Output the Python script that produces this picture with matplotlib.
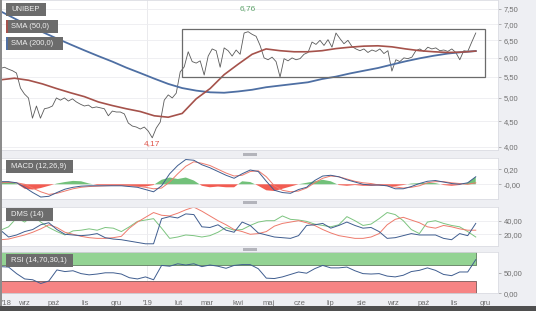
import numpy as np
import pandas as pd
import matplotlib
matplotlib.use('Agg')
import matplotlib.pyplot as plt
import matplotlib.dates as mdates
from matplotlib.patches import Rectangle

plt.rcParams['font.family'] = ['Liberation Sans', 'DejaVu Sans']

# ------------------------------------------------------------
# dane
# ------------------------------------------------------------
start, end = '2018-08-09', '2019-11-22'

close = [5.72, 5.75, 5.70, 5.66, 5.60, 5.23, 5.09, 5.00, 4.56, 4.82,
         4.56, 4.76, 4.78, 4.82, 5.00, 4.95, 5.00, 4.93, 4.98, 4.91,
         4.86, 4.82, 4.84, 4.78, 4.80, 4.78, 4.76, 4.61, 4.71, 4.69,
         4.69, 4.65, 4.46, 4.40, 4.38, 4.34, 4.38, 4.30, 4.17, 4.36,
         4.48, 4.95, 5.07, 5.00, 5.11, 5.63, 5.76, 6.17, 5.90, 5.86,
         5.92, 5.55, 6.05, 6.25, 6.20, 5.75, 6.28, 6.20, 6.05, 6.22,
         6.10, 6.72, 6.76, 6.68, 6.62, 6.35, 6.00, 5.95, 6.02, 5.90,
         5.50, 5.98, 5.92, 6.00, 5.95, 5.98, 6.10, 6.15, 6.45, 6.38,
         6.50, 6.35, 6.52, 6.30, 6.72, 6.55, 6.40, 6.50, 6.32, 6.25,
         6.20, 6.25, 6.15, 6.22, 6.18, 6.25, 6.12, 6.20, 5.65, 5.95,
         5.90, 6.00, 5.98, 6.02, 6.20, 6.25, 6.18, 6.30, 6.25, 6.28,
         6.20, 6.22, 6.18, 6.25, 6.15, 5.95, 6.20, 6.18, 6.45, 6.72]

sma50 = [5.43, 5.47, 5.42, 5.33, 5.22, 5.12, 5.03, 4.91, 4.83, 4.76,
         4.70, 4.61, 4.58, 4.66, 4.98, 5.22, 5.56, 5.83, 6.10, 6.25,
         6.20, 6.17, 6.17, 6.20, 6.26, 6.30, 6.33, 6.34, 6.31, 6.25,
         6.20, 6.17, 6.15, 6.16, 6.19]

sma200 = [7.42, 7.18, 6.95, 6.75, 6.56, 6.38, 6.21, 6.05, 5.90, 5.74,
          5.60, 5.46, 5.33, 5.23, 5.17, 5.13, 5.12, 5.15, 5.19, 5.25,
          5.29, 5.33, 5.37, 5.45, 5.51, 5.59, 5.66, 5.73, 5.82, 5.91,
          5.99, 6.06, 6.12, 6.16, 6.19]

macd = [0.035, 0.035, 0.02, -0.04, -0.11, -0.17, -0.16, -0.11, -0.065, -0.04,
        -0.025, -0.02, -0.02, -0.02, -0.02, -0.02, -0.03, -0.04, -0.07, -0.10,
        -0.02, 0.14, 0.25, 0.33, 0.32, 0.26, 0.22, 0.17, 0.12, 0.08,
        0.14, 0.19, 0.17, 0.04, -0.08, -0.11, -0.12, -0.07, -0.04, 0.05,
        0.11, 0.12, 0.10, 0.06, 0.03, 0.00, -0.01, -0.01, -0.02, -0.06,
        -0.06, -0.03, 0.01, 0.04, 0.05, 0.03, 0.01, 0.00, 0.02, 0.10]

signal = [0.02, 0.025, 0.02, 0.00, -0.05, -0.10, -0.135, -0.12, -0.09, -0.06,
          -0.04, -0.03, -0.025, -0.02, -0.015, -0.015, -0.02, -0.025, -0.04, -0.06,
          -0.05, 0.03, 0.14, 0.24, 0.30, 0.28, 0.25, 0.20, 0.15, 0.11,
          0.12, 0.17, 0.18, 0.10, -0.02, -0.08, -0.10, -0.09, -0.05, 0.02,
          0.08, 0.11, 0.10, 0.07, 0.04, 0.02, 0.01, -0.01, -0.02, -0.035,
          -0.05, -0.04, -0.02, 0.02, 0.035, 0.035, 0.02, 0.01, 0.00, 0.02]

hist = [0.03, 0.035, 0.01, -0.06, -0.07, -0.05, -0.02, 0.01, 0.03, 0.045,
        0.04, 0.01, -0.01, -0.01, -0.01, -0.015, -0.02, -0.03, -0.03, -0.01,
        0.06, 0.09, 0.07, 0.09, 0.05, -0.02, -0.04, -0.03, -0.04, -0.04,
        0.04, 0.03, -0.02, -0.08, -0.09, -0.06, -0.03, 0.00, 0.02, 0.04,
        0.06, 0.04, -0.01, -0.02, -0.01, -0.02, -0.02, -0.015, -0.02, -0.025,
        -0.01, 0.01, 0.015, 0.02, 0.015, -0.01, -0.02, -0.01, 0.02, 0.10]

dms_green = [26, 31, 44, 38, 47, 38, 30, 24, 19, 25,
             26, 28, 26, 30, 29, 24, 31, 39, 41, 43,
             29, 14, 16, 19, 18, 16, 18, 23, 30, 26,
             27, 33, 38, 40, 40, 47, 42, 41, 39, 35,
             33, 31, 34, 46, 40, 33, 35, 43, 52, 49,
             40, 27, 21, 38, 40, 36, 33, 31, 24, 16]

dms_red = [12, 13, 16, 19, 23, 28, 34, 30, 23, 20,
           17, 15, 14, 14, 15, 17, 29, 38, 45, 52,
           48, 47, 51, 56, 60, 54, 47, 40, 34, 27,
           24, 20, 21, 24, 32, 36, 38, 40, 37, 33,
           27, 22, 18, 16, 14, 14, 16, 21, 34, 42,
           45, 41, 37, 31, 29, 33, 31, 28, 26, 26]

dms_blue = [26, 16, 19, 24, 27, 34, 37, 27, 20, 19,
            18, 19, 21, 15, 13, 12, 10, 8, 6, 6,
            43, 46, 44, 50, 49, 31, 30, 34, 26, 23,
            38, 33, 22, 19, 16, 15, 14, 18, 33, 34,
            36, 29, 33, 38, 33, 29, 30, 24, 14, 15,
            18, 21, 19, 19, 19, 14, 12, 21, 18, 36]

rsi = [65, 64, 48, 35, 33, 24, 30, 57, 53, 55,
       48, 45, 47, 50, 50, 47, 38, 35, 40, 33,
       68, 66, 72, 69, 72, 65, 69, 66, 61, 68,
       70, 70, 60, 37, 36, 40, 46, 52, 49, 60,
       68, 62, 62, 64, 55, 48, 47, 48, 42, 40,
       44, 53, 56, 62, 56, 46, 43, 52, 52, 82]

price_ticks = [4.0, 4.5, 5.0, 5.5, 6.0, 6.5, 7.0, 7.5]
macd_ticks, macd_labels = [0.0, 0.2], ['-0,00', '0,20']
dms_ticks = [20, 40]
rsi_ticks = [0, 50]
months_pl = ['sty', 'lut', 'mar', 'kwi', 'maj', 'cze', 'lip', 'sie', 'wrz', 'paź', 'lis', 'gru']

# prostokąt konsolidacji
box_start, box_end, box_low, box_high = '2019-02-04', '2019-12-01', 5.5, 6.85

# ------------------------------------------------------------
# kolory
# ------------------------------------------------------------
GRAY_TXT = '#6f6f6f'
C_PRICE = '#5a5a5a'
C_SMA50 = '#a5524b'
C_SMA200 = '#4e6fa3'
C_BLUE = '#3f5d8f'
C_RED = '#ee7a6c'
C_GREEN = '#7cc47f'

W, H = 536, 311
fig = plt.figure(figsize=(W / 100, H / 100), dpi=100, facecolor='#eeeff3')


def px_axes(top, bottom, left=0, right=498):
    return fig.add_axes([left / W, 1 - bottom / H, (right - left) / W, (bottom - top) / H])


def px_rect(x, y, w, h, color, z=5):
    fig.add_artist(Rectangle((x / W, 1 - (y + h) / H), w / W, h / H,
                             transform=fig.transFigure, color=color, lw=0, zorder=z))


def comma(v, fmt='{:.2f}'):
    return fmt.format(v).replace('.', ',')


ax_p = px_axes(0, 150)
ax_m = px_axes(158, 199)
ax_d = px_axes(206.7, 245.7)
ax_r = px_axes(252.3, 293.3)
axes = [ax_p, ax_m, ax_d, ax_r]

t_price = pd.date_range(start, end, periods=len(close))
t_sma = pd.date_range(start, end, periods=len(sma50))
t_ind = pd.date_range(start, end, periods=len(macd))
jan19 = pd.Timestamp('2019-01-01')

for ax in axes:
    ax.set_facecolor('white')
    ax.set_xlim(pd.Timestamp('2018-08-08 12:00'), pd.Timestamp('2019-12-14'))
    for s in ax.spines.values():
        s.set_color('#dcdde3')
        s.set_linewidth(0.6)
    ax.yaxis.tick_right()
    ax.tick_params(axis='y', length=2, width=0.5, color='#9a9a9a', pad=2,
                   labelsize=5.5, labelcolor=GRAY_TXT)
    ax.tick_params(axis='x', length=0, labelbottom=False)
    ax.axvline(jan19, color='#e6e6ea', lw=0.6, zorder=0)

# --- wykres ceny ---
ax_p.set_yscale('log')
ax_p.set_ylim(3.945, 7.81)
ax_p.set_yticks(price_ticks)
ax_p.set_yticklabels([comma(v) for v in price_ticks])
ax_p.minorticks_off()
for v in price_ticks:
    ax_p.axhline(v, color='#ededf0', lw=0.6, zorder=0)

ax_p.plot(t_price, close, color=C_PRICE, lw=0.6, zorder=3)
ax_p.plot(t_sma, sma200, color=C_SMA200, lw=1.3, zorder=4)
ax_p.plot(t_sma, sma50, color=C_SMA50, lw=1.2, zorder=4)

x0 = mdates.date2num(pd.Timestamp(box_start))
x1 = mdates.date2num(pd.Timestamp(box_end))
ax_p.add_patch(Rectangle((x0, box_low), x1 - x0, box_high - box_low,
                         fill=False, ec='#6b6b6b', lw=0.9, zorder=5))

c = np.array(close)
i_max, i_min = int(c.argmax()), int(c.argmin())
ax_p.text(t_price[i_max], 0.94, comma(c[i_max]), transform=ax_p.get_xaxis_transform(),
          ha='center', va='center', fontsize=6, color='#5fa36c')
ax_p.text(t_price[i_min], 0.045, comma(c[i_min]), transform=ax_p.get_xaxis_transform(),
          ha='center', va='center', fontsize=6, color='#e0564b')

# --- MACD ---
h = np.array(hist)
ax_m.set_ylim(-0.196, 0.35)
ax_m.set_yticks(macd_ticks)
ax_m.set_yticklabels(macd_labels)
for v in macd_ticks:
    ax_m.axhline(v, color='#ededf0', lw=0.6, zorder=0)
ax_m.fill_between(t_ind, h, 0, where=h >= 0, interpolate=True, color='#72c17a', lw=0, zorder=2)
ax_m.fill_between(t_ind, h, 0, where=h < 0, interpolate=True, color='#f25c52', lw=0, zorder=2)
ax_m.plot(t_ind, signal, color=C_RED, lw=0.7, zorder=3)
ax_m.plot(t_ind, macd, color=C_BLUE, lw=0.7, zorder=3)

# --- DMS ---
ax_d.set_ylim(3.2, 60.6)
ax_d.set_yticks(dms_ticks)
ax_d.set_yticklabels([comma(v) for v in dms_ticks])
for v in dms_ticks:
    ax_d.axhline(v, color='#ededf0', lw=0.6, zorder=0)
ax_d.plot(t_ind, dms_green, color=C_GREEN, lw=0.7)
ax_d.plot(t_ind, dms_red, color=C_RED, lw=0.7)
ax_d.plot(t_ind, dms_blue, color=C_BLUE, lw=0.7)

# --- RSI ---
ax_r.set_ylim(0, 100)
ax_r.set_yticks(rsi_ticks)
ax_r.set_yticklabels([comma(v) for v in rsi_ticks])
ax_r.fill_between(t_ind, 70, 100, color='#93d393', ec='#5f7d5f', lw=0.6, zorder=1)
ax_r.fill_between(t_ind, 0, 30, color='#f68484', ec='#7a5a5a', lw=0.6, zorder=1)
ax_r.plot(t_ind, rsi, color=C_BLUE, lw=0.7, zorder=3)

# oś czasu
ticks = list(pd.date_range('2018-09-01', '2019-12-01', freq='MS'))
labels = ["'" + d.strftime('%y') if d.month == 1 else months_pl[d.month - 1] for d in ticks]
ticks = [pd.Timestamp('2018-08-15')] + ticks
labels = ["'18"] + labels
ax_r.set_xticks(ticks)
ax_r.set_xticklabels(labels)
ax_r.tick_params(axis='x', length=0, pad=5, labelbottom=True, labelsize=5.5, labelcolor=GRAY_TXT)

# etykiety paneli
boxes = [('UNIBEP', 3, 40, None), ('SMA (50,0)', 20, 52, C_SMA50),
         ('SMA (200,0)', 37, 57, C_SMA200), ('MACD (12,26,9)', 160, 67, None),
         ('DMS (14)', 208, 47, None), ('RSI (14,70,30,1)', 254, 67, None)]
for text, top, width, accent in boxes:
    px_rect(6, top, width, 12.5, '#6c6c6c', z=6)
    if accent:
        px_rect(6, top, 1.5, 12.5, accent, z=7)
    fig.text(11 / W, 1 - (top + 6.5) / H, text, fontsize=5.5, color='#f0f0f0',
             ha='left', va='center', zorder=8)

# uchwyty między panelami i ramki
for y in (152.5, 201.2, 247.5):
    px_rect(243, y, 14, 3, '#b3b4bb', z=2)
px_rect(0, 0, 1.8, H, '#8c8c8c', z=2)
px_rect(0, 306, W, 5, '#4f4f4f', z=2)

fig.savefig('out.png', dpi=100, facecolor=fig.get_facecolor())
